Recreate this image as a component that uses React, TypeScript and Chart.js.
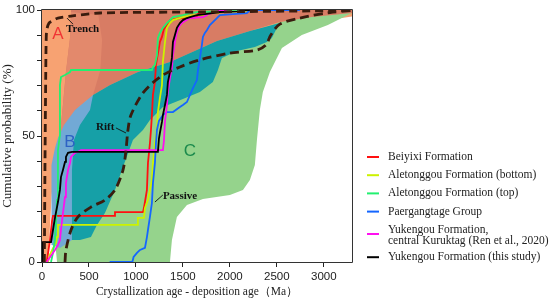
import React, { useEffect, useRef } from 'react';
import { Chart, registerables } from 'chart.js';

Chart.register(...registerables);

type Pt = [number, number];

// ---- axes ----
const X_MIN = 0;
const X_MAX = 3300;
const X_TICKS = [0, 500, 1000, 1500, 2000, 2500, 3000];
const Y_MIN = 0;
const Y_MAX = 100;
const Y_STEP = 10;
const Y_LABEL_STEP = 50;
const X_TITLE = 'Crystallization age - deposition age（Ma）';
const Y_TITLE = 'Cumulative probability (%)';

// ---- cumulative curves (x: crystallization age - deposition age, Ma; y: %) ----
const beiyixi: Pt[] = [
  [50, 0], [85, 8.7], [106, 16], [117, 18.3], [777, 18.3], [777, 19.8], [1075, 19.8], [1085, 21.4],
  [1096, 23.8], [1117, 28.6], [1128, 39.3], [1149, 47.2], [1160, 52.4], [1170, 58.3], [1181, 66.3],
  [1202, 71.4], [1213, 78.2], [1255, 87.3], [1277, 89.3], [1298, 92.5], [1330, 94], [1362, 96],
  [1468, 96.8], [1575, 96.8], [1649, 97.2], [1660, 98.8], [1862, 99.2], [1894, 100], [1950, 100],
];
const aletonggouBottom: Pt[] = [
  [64, 0], [85, 3], [117, 5.5], [149, 7.5], [160, 10], [170, 14.7], [1021, 14.7], [1021, 17.5],
  [1085, 17.5], [1096, 21.4], [1128, 24.6], [1170, 32.5], [1181, 39.3], [1202, 47.2], [1224, 52.4],
  [1234, 59.5], [1255, 65], [1277, 70.2], [1287, 79.4], [1309, 87.3], [1330, 92.9], [1362, 94.8],
  [1394, 96], [1500, 97.2], [1607, 98], [1755, 98], [1819, 98.8], [1925, 99.2], [2100, 99.6],
  [2213, 100], [2426, 100],
];
const aletonggouTop: Pt[] = [
  [96, 0], [117, 3.6], [138, 8.7], [160, 24.6], [170, 44.4], [191, 50.4], [191, 70.2], [202, 73.4],
  [245, 74.2], [298, 75.4], [309, 76.2], [1170, 76.2], [1181, 77.4], [1202, 78.2], [1224, 82.1],
  [1234, 88.9], [1255, 90.9], [1287, 92.9], [1330, 94.8], [1362, 96], [1394, 97.2], [1500, 98],
  [1575, 98.8], [1660, 99.2], [2150, 99.6], [2181, 100], [2320, 100],
];
const paergangtage: Pt[] = [
  [720, 0], [962, 0], [975, 2], [1011, 3.6], [1043, 4.8], [1096, 5.6], [1117, 9.9], [1128, 12.7],
  [1149, 17.9], [1170, 23.4], [1181, 31.3], [1202, 39.3], [1213, 47.2], [1224, 52.4], [1245, 56],
  [1287, 58.3], [1330, 59.5], [1394, 59.5], [1468, 61.5], [1500, 62.3], [1543, 63.5], [1575, 66.3],
  [1607, 69], [1649, 72.2], [1660, 76], [1681, 81], [1702, 86.1], [1713, 89.3], [1734, 90.9],
  [1755, 92], [1787, 94], [1819, 95.2], [1862, 96.8], [1894, 98], [2032, 98.4], [2181, 98.8],
  [2213, 100], [2745, 100],
];
const yukengouRen: Pt[] = [
  [50, 0], [64, 0.8], [138, 4.8], [170, 6.7], [191, 8.7], [202, 12.7], [223, 19.4], [245, 25.8],
  [255, 31.3], [277, 36.5], [298, 39.3], [309, 41.7], [351, 43.3], [383, 43.7], [415, 44.4],
  [1287, 44.4], [1298, 48], [1309, 55.6], [1330, 62.3], [1340, 67.5], [1362, 73], [1383, 77],
  [1394, 82.1], [1415, 87.3], [1436, 91.3], [1468, 94], [1500, 95.2], [1575, 96.8], [1713, 97.2],
  [1780, 98.4], [1862, 99.2], [1894, 100], [1968, 100],
];
const yukengouThis: Pt[] = [
  [10, 0], [10, 7.9], [96, 7.9], [117, 12.7], [138, 17.5], [170, 23.8], [191, 28.6], [202, 33.7],
  [223, 36.5], [245, 39.7], [255, 41.7], [277, 43.3], [319, 43.7], [1234, 43.7], [1245, 49],
  [1255, 51.2], [1277, 55.6], [1287, 58.3], [1309, 62.3], [1330, 66.3], [1340, 71.4], [1362, 75.4],
  [1383, 81], [1394, 87.3], [1415, 90.1], [1436, 92.9], [1468, 94.8], [1500, 96], [1543, 96.8],
  [1575, 97.2], [1649, 98], [1819, 98.8], [1894, 99.2], [2100, 99.6], [2160, 100], [2213, 100],
];

// ---- tectonic-setting reference curves (dashed) ----
const trenchCurve: Pt[] = [
  [25, 0], [32, 40], [40, 75], [45, 89], [53, 92.5], [75, 94.8], [106, 95.6], [170, 96.8],
  [309, 97.6], [617, 98.8], [1681, 99.2], [3300, 99.8],
];
const riftCurve: Pt[] = [
  [245, 0], [255, 4.8], [309, 12.7], [383, 17.9], [521, 21.8], [670, 24.6], [777, 28.6], [862, 36.5],
  [894, 44.4], [915, 52.4], [947, 58.3], [1075, 67.1], [1255, 73.4], [1468, 77.4], [1681, 80.2],
  [2000, 82.9], [2288, 84.1], [2383, 86.1], [2436, 90.1], [2532, 94.4], [2745, 96.8], [3064, 99],
  [3300, 99.8],
];

// ---- shaded fields (outlines) ----
const fieldOrange: Pt[] = [
  [-50, -5], [-50, 105], [3400, 105], [3400, 98], [2500, 93], [1500, 80], [700, 65], [350, 55],
  [200, 48], [130, 40], [100, 24.6], [64, 0], [64, -5],
];
const fieldGreen: Pt[] = [
  [170, -5], [1362, -5], [1362, 0], [1383, 8.7], [1436, 17.9], [1543, 22.6], [1713, 25], [2000, 26.6],
  [2139, 28.6], [2213, 32.5], [2266, 38.5], [2288, 48.4], [2319, 60.3], [2351, 67.5], [2426, 75.4],
  [2554, 84.9], [2766, 90.1], [3043, 94], [3298, 98.8], [3400, 99.6], [2873, 97.6], [2532, 95.2],
  [2213, 90.9], [1681, 82.1], [1043, 74.2], [617, 64.3], [351, 52.4], [213, 40.5], [149, 24.6],
  [138, 8.7], [160, 0],
];
const fieldSalmon: Pt[] = [
  [309, 105], [3400, 105], [3400, 99.2], [2873, 97.2], [2532, 95.2], [2213, 91.7], [1862, 87.7],
  [1362, 79.4], [1021, 75.4], [724, 70.2], [543, 66.3], [351, 60.3], [213, 50.4], [192, 50.4],
  [223, 62.3], [255, 75.4], [298, 88.9], [309, 99.2],
];
const fieldSalmonLight: Pt[] = [
  [309, 99.2], [600, 98], [640, 88], [620, 76], [543, 66.3], [351, 60.3], [213, 50.4], [192, 50.4],
  [223, 62.3], [255, 75.4], [298, 88.9],
];
const fieldBlue: Pt[] = [
  [106, 6.7], [96, 24.6], [106, 38.5], [138, 45.2], [170, 49.2], [234, 54.4], [351, 60.3],
  [543, 66.3], [617, 64.3], [511, 56.3], [404, 48.4], [351, 36.5], [319, 8.7], [192, 5.6],
];
const fieldTeal: Pt[] = [
  [543, 66.3], [724, 70.2], [1021, 75.4], [1362, 79.4], [1862, 87.7], [2213, 91.7], [2532, 94.8],
  [2500, 92.9], [2447, 88.9], [2394, 87.3], [2266, 85.3], [2075, 83.7], [1915, 81], [1873, 76.2],
  [1819, 71.4], [1681, 67.5], [1500, 64.7], [1287, 61.5], [1149, 56.3], [1075, 52.4], [968, 48.4],
  [862, 37.7], [777, 28.6], [670, 19.4], [585, 14.7], [521, 9.9], [404, 8.7], [309, 8.7], [319, 36.5],
  [340, 48.4], [404, 54.4], [511, 60.3],
];

// ---- leader lines for curve labels ----
const trenchLeader: Pt[] = [[266, 96.8], [330, 94.4]];
const riftLeader: Pt[] = [[787, 53.2], [894, 51.2]];
const passiveLeader: Pt[] = [[1287, 26.6], [1202, 23.8]];

// ---- series names ----
const SERIES_LABELS: string[][] = [
  ['Beiyixi Formation'],
  ['Aletonggou Formation (bottom)'],
  ['Aletonggou Formation (top)'],
  ['Paergangtage Group'],
  ['Yukengou Formation,', 'central Kuruktag (Ren et al., 2020)'],
  ['Yukengou Formation (this study)'],
];
const SERIES_DATA: Pt[][] = [beiyixi, aletonggouBottom, aletonggouTop, paergangtage, yukengouRen, yukengouThis];
const SERIES_COLORS = ['#FF1010', '#CCF200', '#22F070', '#1466FF', '#FF10F0', '#000000'];

// annotations
const FIELD_LETTERS = [
  { text: 'A', x: 170, y: 90.5, color: '#F03535' },
  { text: 'B', x: 298, y: 47.6, color: '#2D62C4' },
  { text: 'C', x: 1575, y: 44, color: '#1B8A4C' },
];
const CURVE_NAMES = [
  { text: 'Trench', x: 255, y: 92.5 },
  { text: 'Rift', x: 575, y: 53.6 },
  { text: 'Passive', x: 1287, y: 26.2 },
];

const xy = (a: Pt[]) => a.map(([x, y]) => ({ x, y }));

export default function App() {
  const ref = useRef<HTMLCanvasElement>(null);

  useEffect(() => {
    const canvas = ref.current;
    if (!canvas) return;

    const region = (data: Pt[], color: string, order: number) => ({
      data: xy(data),
      backgroundColor: color,
      borderColor: 'rgba(0,0,0,0)',
      borderWidth: 0,
      pointRadius: 0,
      fill: 'shape',
      tension: 0,
      order,
    });

    const datasets: any[] = [];
    datasets.push({
      data: xy(trenchCurve), borderColor: '#3A1C0E', borderWidth: 2.8, borderDash: [8, 5],
      pointRadius: 0, fill: false, tension: 0.3, order: 1,
    });
    datasets.push({
      data: xy(riftCurve), borderColor: '#3A1C0E', borderWidth: 2.8, borderDash: [9, 5],
      pointRadius: 0, fill: false, tension: 0.3, order: 1,
    });
    [trenchLeader, riftLeader, passiveLeader].forEach((d) =>
      datasets.push({ data: xy(d), borderColor: '#111', borderWidth: 0.9, pointRadius: 0, fill: false, order: 1 })
    );
    SERIES_DATA.forEach((d, i) =>
      datasets.push({
        data: xy(d), borderColor: SERIES_COLORS[i], backgroundColor: SERIES_COLORS[i],
        borderWidth: 1.8, pointRadius: 0, fill: false, tension: 0, order: 8 - i,
        label: SERIES_LABELS[i].join(' '),
      })
    );
    datasets.push(region(fieldTeal, '#16A0A7', 20));
    datasets.push(region(fieldBlue, '#72A9D5', 21));
    datasets.push(region(fieldSalmonLight, '#E3896C', 22));
    datasets.push(region(fieldSalmon, '#D87C64', 23));
    datasets.push(region(fieldGreen, '#95D38C', 24));
    datasets.push(region(fieldOrange, '#F7A272', 25));

    const framePlugin = {
      id: 'frame',
      beforeDatasetsDraw(chart: any) {
        const { ctx, chartArea: a } = chart;
        ctx.save();
        ctx.strokeStyle = '#333';
        ctx.lineWidth = 1;
        ctx.beginPath();
        ctx.rect(a.left - 0.5, a.top - 0.5, a.right - a.left + 1, a.bottom - a.top + 1);
        ctx.stroke();
        ctx.restore();
      },
    };

    const annotatePlugin = {
      id: 'annotate',
      afterDatasetsDraw(chart: any) {
        const { ctx } = chart;
        const xs = chart.scales.x;
        const ys = chart.scales.y;
        ctx.save();
        ctx.textBaseline = 'middle';
        ctx.textAlign = 'center';
        ctx.font = '17px "Liberation Sans", Arial, sans-serif';
        FIELD_LETTERS.forEach((l) => {
          ctx.fillStyle = l.color;
          ctx.fillText(l.text, xs.getPixelForValue(l.x), ys.getPixelForValue(l.y));
        });
        ctx.textAlign = 'left';
        ctx.font = 'bold 11px "Liberation Serif", "Times New Roman", serif';
        ctx.fillStyle = '#111';
        CURVE_NAMES.forEach((l) => {
          ctx.fillText(l.text, xs.getPixelForValue(l.x), ys.getPixelForValue(l.y));
        });
        ctx.restore();
      },
    };

    const legendPlugin = {
      id: 'sideLegend',
      afterDraw(chart: any) {
        const { ctx, chartArea: a } = chart;
        const sx0 = a.right + 15;
        const sx1 = a.right + 27;
        const tx = a.right + 36;
        let y = 157;
        const rowGap = 18.2;
        const lineGap = 11;
        ctx.save();
        ctx.font = '11.5px "Liberation Serif", "Times New Roman", serif';
        ctx.textBaseline = 'middle';
        ctx.textAlign = 'left';
        SERIES_LABELS.forEach((lines, i) => {
          const sampleY = lines.length > 1 ? y + 4.2 : y;
          ctx.strokeStyle = SERIES_COLORS[i];
          ctx.lineWidth = 2;
          ctx.beginPath();
          ctx.moveTo(sx0, sampleY);
          ctx.lineTo(sx1, sampleY);
          ctx.stroke();
          ctx.fillStyle = '#222';
          lines.forEach((t, k) => ctx.fillText(t, tx, y + k * lineGap));
          y += rowGap + (lines.length - 1) * (lineGap - 1.8);
        });
        ctx.restore();
      },
    };

    const chart = new Chart(canvas, {
      type: 'line',
      data: { datasets },
      options: {
        animation: false,
        responsive: false,
        devicePixelRatio: 1,
        events: [],
        layout: { padding: { left: 0, top: 10, right: 198, bottom: 0 } },
        plugins: { legend: { display: false }, tooltip: { enabled: false } },
        scales: {
          x: {
            type: 'linear',
            min: X_MIN,
            max: X_MAX,
            afterBuildTicks: (s: any) => {
              s.ticks = X_TICKS.map((v) => ({ value: v }));
            },
            afterFit: (s: any) => {
              s.height = 38;
            },
            ticks: {
              autoSkip: false,
              maxRotation: 0,
              padding: 3,
              color: '#222',
              font: { family: '"Liberation Sans", Arial, sans-serif', size: 11.5 },
              callback: (v: any) => String(v),
            },
            grid: { display: true, drawOnChartArea: false, drawTicks: true, tickLength: 5, color: '#222' },
            border: { display: false },
            title: {
              display: true,
              text: X_TITLE,
              color: '#222',
              font: { family: '"Liberation Serif", "Times New Roman", serif', size: 11.5 },
              padding: { top: 0, bottom: 1.5 },
            },
          },
          y: {
            type: 'linear',
            min: Y_MIN,
            max: Y_MAX,
            afterFit: (s: any) => {
              s.width = 42;
            },
            ticks: {
              stepSize: Y_STEP,
              autoSkip: false,
              padding: 2,
              color: '#222',
              font: { family: '"Liberation Sans", Arial, sans-serif', size: 11.5 },
              callback: (v: any) => (Number(v) % Y_LABEL_STEP === 0 ? String(v) : ''),
            },
            grid: { display: true, drawOnChartArea: false, drawTicks: true, tickLength: 5, color: '#222' },
            border: { display: false },
            title: {
              display: true,
              text: Y_TITLE,
              color: '#222',
              font: { family: '"Liberation Serif", "Times New Roman", serif', size: 13 },
              padding: { top: 0, bottom: 0 },
            },
          },
        },
      },
      plugins: [framePlugin, annotatePlugin, legendPlugin],
    } as any);

    return () => chart.destroy();
  }, []);

  return (
    <div style={{ position: 'absolute', left: 0, top: 0, width: 550, height: 300, background: '#fff' }}>
      <canvas ref={ref} width={550} height={300} style={{ display: 'block', width: 550, height: 300 }} />
    </div>
  );
}
